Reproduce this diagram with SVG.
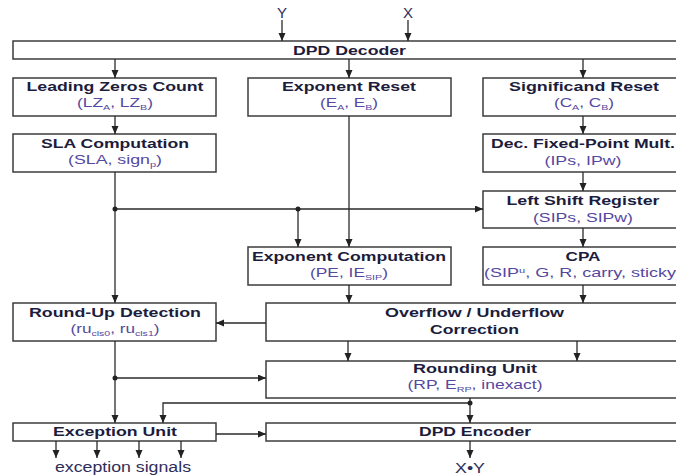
<svg xmlns="http://www.w3.org/2000/svg" width="676" height="476" viewBox="0 0 676 476">
  <defs>
    <marker id="arrow" markerUnits="userSpaceOnUse" markerWidth="9" markerHeight="8" refX="8" refY="3.5" orient="auto">
      <path d="M0,0 L8,3.5 L0,7 z" fill="#222"/>
    </marker>
    <style>
      .box { fill: #fff; stroke: #3c3c3c; stroke-width: 1.5; }
      .title { font-family: "Liberation Sans", Arial, sans-serif; font-weight: bold; font-size: 13.5px; fill: #1c1c3c; text-anchor: middle; }
      .sig { font-family: "Liberation Sans", Arial, sans-serif; font-size: 13px; fill: #5548a0; text-anchor: middle; }
      .io { font-family: "Liberation Sans", Arial, sans-serif; font-size: 14px; fill: #2e2e5a; text-anchor: middle; }
      .sub { font-size: 8px; }
      .wire { fill: none; stroke: #2a2a2a; stroke-width: 1.3; }
      .arr { marker-end: url(#arrow); }
      .dot { fill: #222; }
    </style>
  </defs>

  <rect width="676" height="476" fill="#fff"/>

  <!-- inputs -->
  <text class="io" x="282" y="18" textLength="10" lengthAdjust="spacingAndGlyphs">Y</text>
  <text class="io" x="408" y="18" textLength="10" lengthAdjust="spacingAndGlyphs">X</text>

  <g id="dpd-decoder">
    <rect class="box" x="13" y="41" width="680" height="18"/>
    <text class="title" x="349.5" y="55" textLength="113" lengthAdjust="spacingAndGlyphs">DPD Decoder</text>
  </g>

  <g id="leading-zeros-count">
    <rect class="box" x="13" y="78" width="203" height="38"/>
    <text class="title" x="115" y="91" textLength="177" lengthAdjust="spacingAndGlyphs">Leading Zeros Count</text>
    <text class="sig" x="115" y="107" textLength="76" lengthAdjust="spacingAndGlyphs">(LZ<tspan class="sub" dy="3">A</tspan><tspan dy="-3">, LZ</tspan><tspan class="sub" dy="3">B</tspan><tspan dy="-3">)</tspan></text>
  </g>

  <g id="exponent-reset">
    <rect class="box" x="248" y="78" width="203" height="38"/>
    <text class="title" x="349" y="91" textLength="134" lengthAdjust="spacingAndGlyphs">Exponent Reset</text>
    <text class="sig" x="349" y="107" textLength="58" lengthAdjust="spacingAndGlyphs">(E<tspan class="sub" dy="3">A</tspan><tspan dy="-3">, E</tspan><tspan class="sub" dy="3">B</tspan><tspan dy="-3">)</tspan></text>
  </g>

  <g id="significand-reset">
    <rect class="box" x="483" y="78" width="200" height="38"/>
    <text class="title" x="584" y="91" textLength="150" lengthAdjust="spacingAndGlyphs">Significand Reset</text>
    <text class="sig" x="584" y="107" textLength="60" lengthAdjust="spacingAndGlyphs">(C<tspan class="sub" dy="3">A</tspan><tspan dy="-3">, C</tspan><tspan class="sub" dy="3">B</tspan><tspan dy="-3">)</tspan></text>
  </g>

  <g id="sla-computation">
    <rect class="box" x="13" y="134" width="203" height="38"/>
    <text class="title" x="115" y="148" textLength="148" lengthAdjust="spacingAndGlyphs">SLA Computation</text>
    <text class="sig" x="115" y="164" textLength="94" lengthAdjust="spacingAndGlyphs">(SLA, sign<tspan class="sub" dy="3">p</tspan><tspan dy="-3">)</tspan></text>
  </g>

  <g id="dec-fixed-point-mult">
    <rect class="box" x="483" y="134" width="200" height="38"/>
    <text class="title" x="583" y="148" textLength="184" lengthAdjust="spacingAndGlyphs">Dec. Fixed-Point Mult.</text>
    <text class="sig" x="583" y="165" textLength="77" lengthAdjust="spacingAndGlyphs">(IPs, IPw)</text>
  </g>

  <g id="left-shift-register">
    <rect class="box" x="483" y="191" width="200" height="37"/>
    <text class="title" x="583" y="205" textLength="153" lengthAdjust="spacingAndGlyphs">Left Shift Register</text>
    <text class="sig" x="583" y="222" textLength="100" lengthAdjust="spacingAndGlyphs">(SIPs, SIPw)</text>
  </g>

  <g id="exponent-computation">
    <rect class="box" x="248" y="247" width="203" height="38"/>
    <text class="title" x="349" y="261" textLength="194" lengthAdjust="spacingAndGlyphs">Exponent Computation</text>
    <text class="sig" x="349" y="277" textLength="78" lengthAdjust="spacingAndGlyphs">(PE, IE<tspan class="sub" dy="3">SIP</tspan><tspan dy="-3">)</tspan></text>
  </g>

  <g id="cpa">
    <rect class="box" x="483" y="247" width="200" height="38"/>
    <text class="title" x="583" y="261" textLength="35" lengthAdjust="spacingAndGlyphs">CPA</text>
    <text class="sig" x="583" y="277" textLength="198" lengthAdjust="spacingAndGlyphs">(SIP<tspan class="sub" dy="-4">u</tspan><tspan dy="4">, G, R, carry, sticky)</tspan></text>
  </g>

  <g id="round-up-detection">
    <rect class="box" x="13" y="303" width="203" height="38"/>
    <text class="title" x="115" y="317" textLength="172" lengthAdjust="spacingAndGlyphs">Round-Up Detection</text>
    <text class="sig" x="115" y="333" textLength="89" lengthAdjust="spacingAndGlyphs">(ru<tspan class="sub" dy="3">cls0</tspan><tspan dy="-3">, ru</tspan><tspan class="sub" dy="3">cls1</tspan><tspan dy="-3">)</tspan></text>
  </g>

  <g id="overflow-underflow-correction">
    <rect class="box" x="266" y="303" width="418" height="38"/>
    <text class="title" x="474.5" y="317" textLength="179" lengthAdjust="spacingAndGlyphs">Overflow / Underflow</text>
    <text class="title" x="474.5" y="334" textLength="89" lengthAdjust="spacingAndGlyphs">Correction</text>
  </g>

  <g id="rounding-unit">
    <rect class="box" x="266" y="361" width="418" height="37"/>
    <text class="title" x="475" y="373" textLength="124" lengthAdjust="spacingAndGlyphs">Rounding Unit</text>
    <text class="sig" x="475" y="389" textLength="135" lengthAdjust="spacingAndGlyphs">(RP, E<tspan class="sub" dy="3">RP</tspan><tspan dy="-3">, inexact)</tspan></text>
  </g>

  <g id="exception-unit">
    <rect class="box" x="13" y="423" width="203" height="18"/>
    <text class="title" x="115" y="436" textLength="124" lengthAdjust="spacingAndGlyphs">Exception Unit</text>
  </g>

  <g id="dpd-encoder">
    <rect class="box" x="266" y="423" width="418" height="18"/>
    <text class="title" x="475" y="436" textLength="112" lengthAdjust="spacingAndGlyphs">DPD Encoder</text>
  </g>

  <!-- outputs -->
  <text class="io" x="123" y="472" textLength="136" lengthAdjust="spacingAndGlyphs">exception signals</text>
  <text class="io" x="470" y="473" textLength="30" lengthAdjust="spacingAndGlyphs">X•Y</text>

  <g id="connectors">
    <line class="wire arr" x1="282" y1="20" x2="282" y2="41"/>
    <line class="wire arr" x1="408" y1="20" x2="408" y2="41"/>
    <line class="wire arr" x1="115" y1="59" x2="115" y2="78"/>
    <line class="wire arr" x1="349" y1="59" x2="349" y2="78"/>
    <line class="wire arr" x1="583" y1="59" x2="583" y2="78"/>
    <line class="wire arr" x1="115" y1="116" x2="115" y2="134"/>
    <line class="wire arr" x1="583" y1="116" x2="583" y2="134"/>
    <line class="wire arr" x1="349" y1="116" x2="349" y2="247"/>
    <line class="wire arr" x1="583" y1="172" x2="583" y2="191"/>
    <line class="wire arr" x1="115" y1="172" x2="115" y2="303"/>
    <line class="wire arr" x1="115" y1="209" x2="483" y2="209"/>
    <line class="wire arr" x1="298" y1="209" x2="298" y2="247"/>
    <line class="wire arr" x1="583" y1="228" x2="583" y2="247"/>
    <line class="wire arr" x1="349" y1="285" x2="349" y2="303"/>
    <line class="wire arr" x1="583" y1="285" x2="583" y2="303"/>
    <line class="wire arr" x1="266" y1="323" x2="216" y2="323"/>
    <line class="wire arr" x1="348" y1="341" x2="348" y2="361"/>
    <line class="wire arr" x1="577" y1="341" x2="577" y2="361"/>
    <line class="wire arr" x1="115" y1="341" x2="115" y2="423"/>
    <line class="wire arr" x1="115" y1="378" x2="266" y2="378"/>
    <line class="wire arr" x1="470" y1="398" x2="470" y2="423"/>
    <polyline class="wire arr" points="470,403 163,403 163,423"/>
    <line class="wire arr" x1="216" y1="434" x2="266" y2="434"/>
    <line class="wire arr" x1="470" y1="441" x2="470" y2="458"/>
    <line class="wire arr" x1="56" y1="441" x2="56" y2="458"/>
    <line class="wire arr" x1="97" y1="441" x2="97" y2="458"/>
    <line class="wire arr" x1="139" y1="441" x2="139" y2="458"/>
    <line class="wire arr" x1="181" y1="441" x2="181" y2="458"/>
    <circle class="dot" cx="115" cy="209" r="2.5"/>
    <circle class="dot" cx="298" cy="209" r="2.5"/>
    <circle class="dot" cx="115" cy="378" r="2.5"/>
    <circle class="dot" cx="470" cy="403" r="2.5"/>
  </g>
</svg>
